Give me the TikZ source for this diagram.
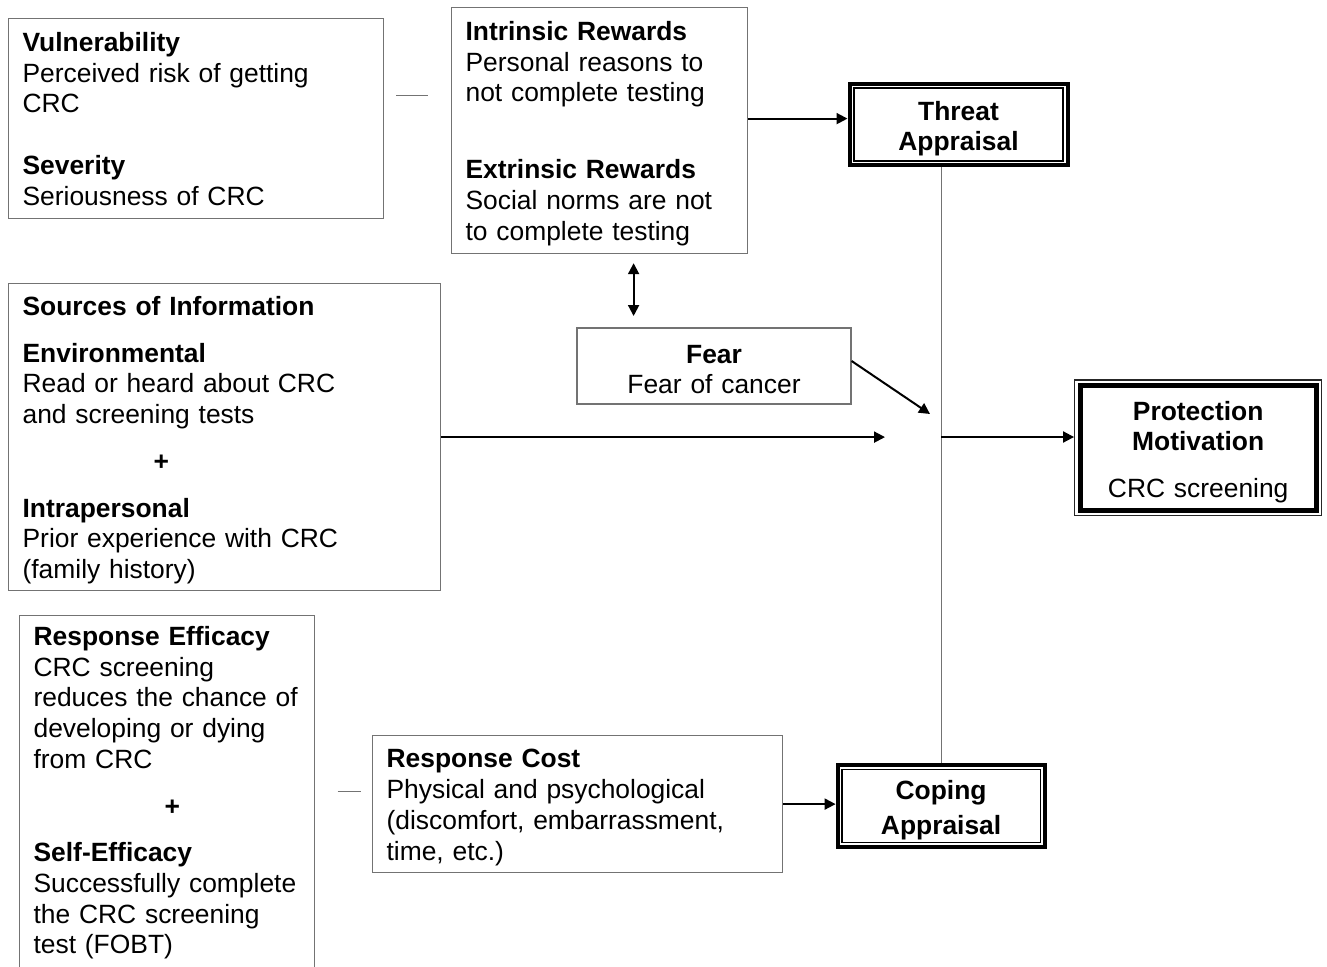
\documentclass[tikz,border=0pt]{standalone}
\usepackage{fontspec}
\setmainfont{Liberation Sans}
\usetikzlibrary{positioning, arrows.meta, calc}
\newcommand{\figfont}{\fontsize{26.4}{30.7}\selectfont}
\newcommand{\lnstrut}{\rule[-5.5pt]{0pt}{30.7pt}}
\newcommand{\cnstrut}{\rule[-3pt]{0pt}{30.7pt}}

\begin{document}
\begin{tikzpicture}[
  x=1pt, y=-1pt,
  txt/.style={font=\figfont, execute at begin node=\lnstrut,
              execute at end node=\lnstrut},
  ctxt/.style={font=\figfont, execute at begin node=\cnstrut,
              execute at end node=\cnstrut},
  box/.style={txt, draw=black!55, line width=1.2pt, anchor=north west,
              inner xsep=14pt, inner ysep=0pt, align=left},
  mid/.style={ctxt, draw=black!55, line width=1.2pt, inner sep=0pt,
              align=center},
  apr/.style={ctxt, draw, line width=4pt, inner sep=0pt, align=center,
              font=\figfont\bfseries},
  ar/.style={-{Triangle[length=11pt,width=11pt]}, line width=2pt},
  ar2/.style={{Triangle[length=11pt,width=11pt]}-{Triangle[length=11pt,width=11pt]},
              line width=2pt},
  link/.style={draw=black!55, line width=1.2pt},
]
  \useasboundingbox (0,0) rectangle (1327,966);

  % threat side
  \node[box, text width=347pt, minimum height=200pt] (vul) at (8,18)
    {\textbf{Vulnerability}\\Perceived risk of getting\\CRC\\[31pt]
     \textbf{Severity}\\Seriousness of CRC};
  \node[box, text width=268pt, minimum height=246pt] (rew) at (451,7)
    {\textbf{Intrinsic Rewards}\\Personal reasons to\\not complete testing\\[46.3pt]
     \textbf{Extrinsic Rewards}\\Social norms are not\\to complete testing};
  \node[apr, text width=218pt, minimum height=81.6pt] (threat) at (958.5,124.5)
    {Threat\\Appraisal};
  \node[mid, text width=274pt, minimum height=76pt] (fear) at (714,366)
    {\textbf{Fear}\\Fear of cancer};
  \node[box, text width=404pt, minimum height=307pt] (info) at (8,283)
    {\textbf{Sources of Information}\\[16pt]
     \textbf{Environmental}\\Read or heard about CRC\\and screening tests\\[16pt]
     \hspace*{131pt}\textbf{+}\\[16pt]
     \textbf{Intrapersonal}\\Prior experience with CRC\\(family history)};

  % outcome
  \node[ctxt, draw=black!85, line width=1.3pt, inner sep=0pt, align=center,
        text width=247pt, minimum height=135.7pt] (prot) at (1198.2,447.85)
    {\textbf{Protection}\\\textbf{Motivation}\\[16pt]CRC screening};

  % coping side
  \node[box, text width=267pt, minimum height=373pt] (eff) at (19,615)
    {\textbf{Response Efficacy}\\CRC screening\\reduces the chance of\\developing or dying\\from CRC\\[16pt]
     \hspace*{131pt}\textbf{+}\\[16pt]
     \textbf{Self-Efficacy}\\Successfully complete\\the CRC screening\\test (FOBT)\rule[-30pt]{0pt}{30pt}};
  \node[box, text width=382pt, minimum height=137pt] (cost) at (372,735)
    {\textbf{Response Cost}\\Physical and psychological\\(discomfort, embarrassment,\\time, etc.)};
  \node[apr, text width=207pt, minimum height=82pt] (coping) at (941.1,806)
    {Coping\\Appraisal};

  % double frames
  \foreach \n in {threat,coping}
    \draw[line width=1.4pt] ([shift={(6.4pt,-6.4pt)}]\n.north west)
      rectangle ([shift={(-6.4pt,6.4pt)}]\n.south east);
  \draw[line width=5pt] ([shift={(6pt,-6pt)}]prot.north west)
    rectangle ([shift={(-6pt,6pt)}]prot.south east);

  \coordinate (hub) at (941,437);
  \coordinate (fearend) at (930,414);
  \coordinate (infoend) at (885,437);

  \draw[link] ($(vul.east)+(12pt,23pt)$) -- ($(vul.east -| rew.west)+(-23pt,23pt)$);
  \draw[link] ($(cost.west)+(-34.4pt,12.5pt)$) -- ($(cost.west)+(-11.4pt,12.5pt)$);
  \draw[link, line width=1.1pt] (threat.south -| coping.north) -- (coping.north);

  \draw[ar] ([yshift=12pt]rew.east) coordinate (rw) -- (rw -| threat.west);
  \draw[ar2, shorten <=9pt, shorten >=11.4pt] ([xshift=34pt]rew.south) coordinate (rs)
    -- (rs |- fear.north);
  \draw[ar] ([yshift=5pt]fear.east) -- (fearend);
  \draw[ar] (info.east) -- (info.east -| infoend);
  \draw[ar] (hub) -- (hub -| prot.west);
  \draw[ar] (cost.east) -- (cost.east -| coping.west);
\end{tikzpicture}
\end{document}
